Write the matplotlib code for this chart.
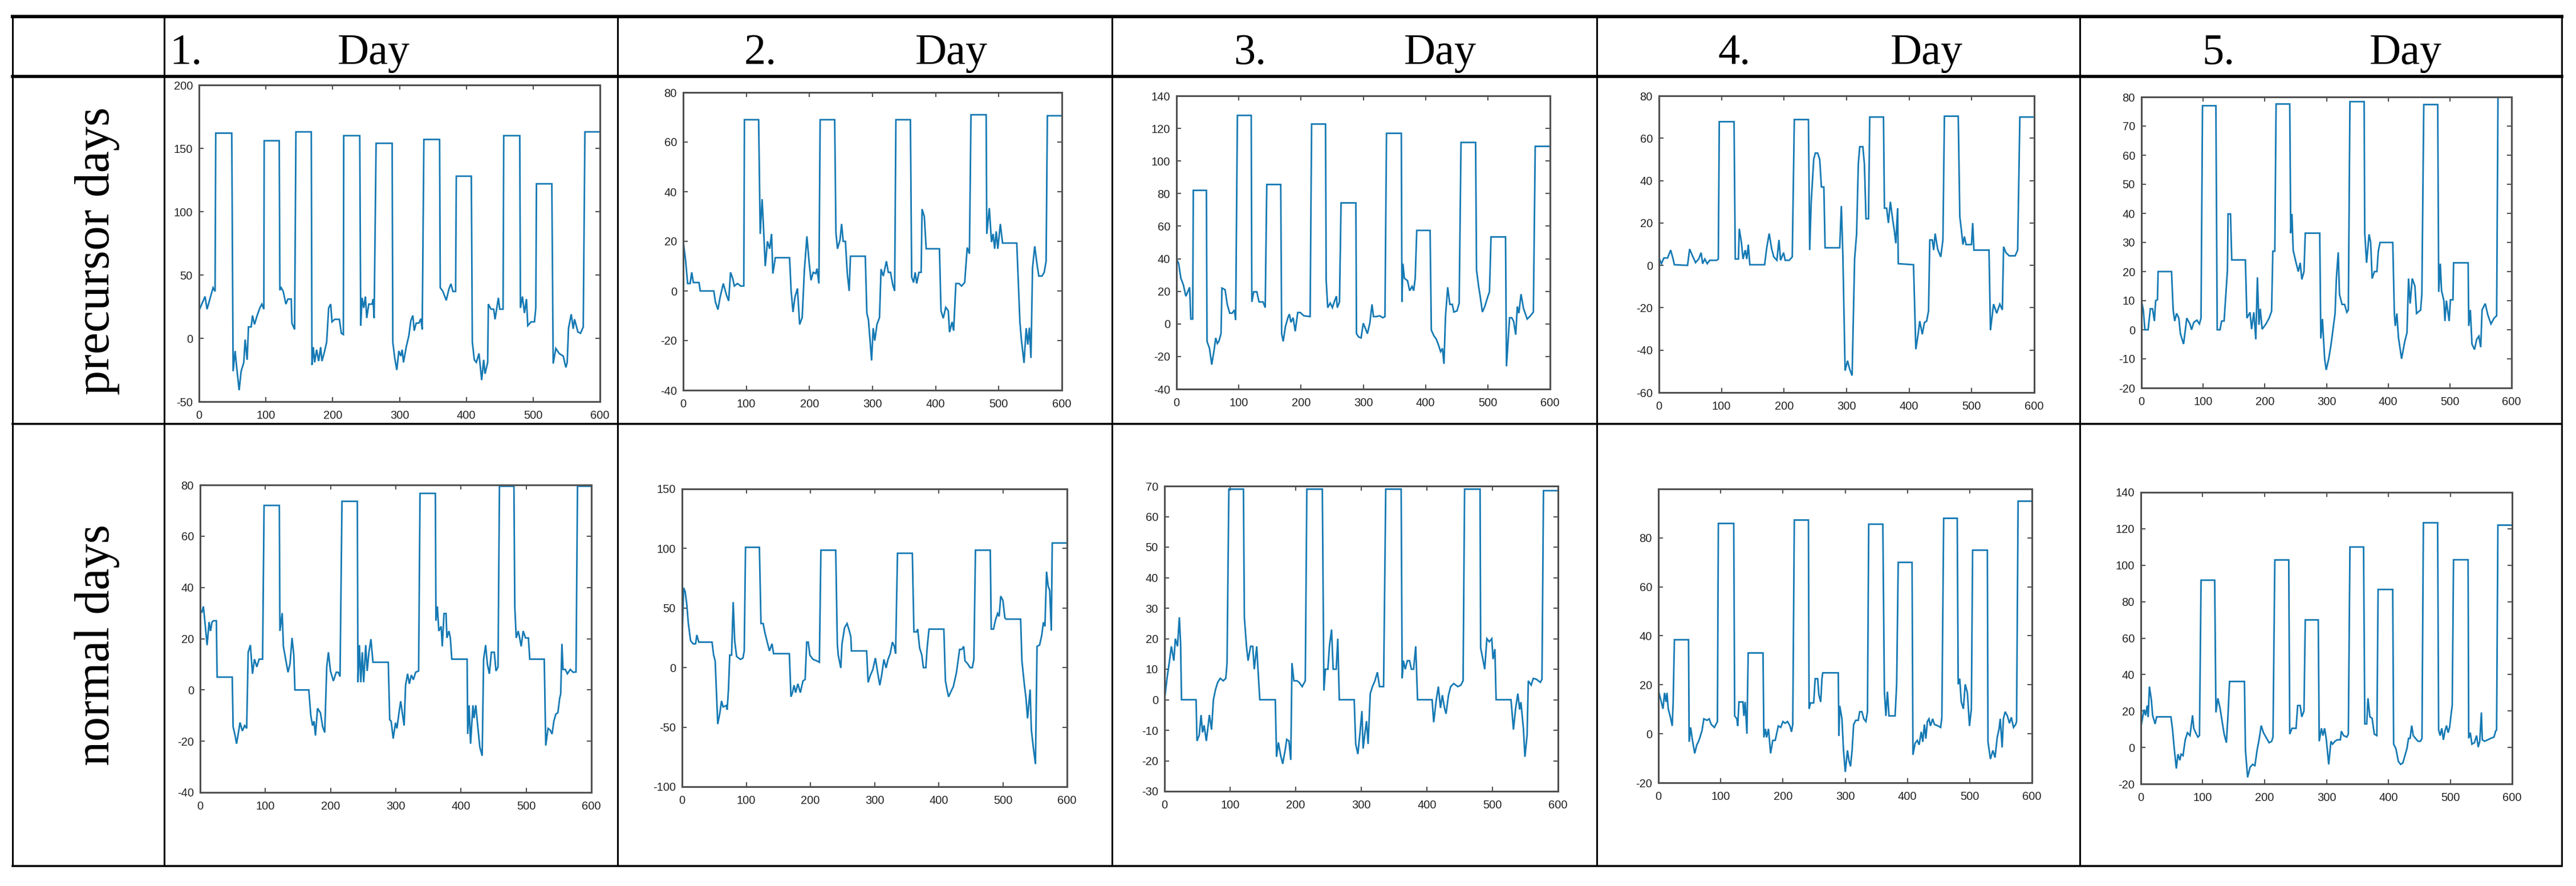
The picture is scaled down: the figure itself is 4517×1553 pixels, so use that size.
import matplotlib
matplotlib.use("Agg")
import matplotlib.pyplot as plt

plt.rcParams["axes.unicode_minus"] = False

# ---------------- data ----------------
column_numbers = ["1.", "2.", "3.", "4.", "5."]
column_word = "Day"
row_labels = ["precursor days", "normal days"]

x_ticks = [0, 100, 200, 300, 400, 500, 600]

precursor_day1 = [(0,22),(9,33),(12,23),(21,40),(24,37),(25,162),(49,162),(51,-26),(54,-10),(56,-21),(60,-41),(63,-26),(67,-19),(69,-1),(72,-17),(74,9),(78,9),(80,18),(83,11),(87,18),(91,24),(94,27),(97,23),(97.5,156),(120,156),(121,38),(123,40),(126,37),(130,27),(133,31),(138,31),(139,12),(143,7),(145,163),(168,163),(169,-21),(171,-7),(173,-19),(176,-9),(179,-18),(182,-7),(184,-18),(188,-10),(191,-3),(194,24),(197,27),(199,13),(203,15),(210,15),(213,4),(216,3),(216.5,160),(240.5,160),(242,10),(244,32),(246.5,24),(249,33),(251,16),(254,27),(259,27),(260.5,31),(262,16),(265,154),(289,154),(290,-3),(293,-16),(296,-25),(299,-10),(302,-14),(304,-9),(306,-19),(310,-7),(314,2),(317,14),(320,18),(322,6),(325,12),(329,12),(332,15.5),(334,7),(336.5,157),(360,157),(361,40),(365,37),(370,30),(374,39),(377,43),(380,37),(384,37),(385,128),(407.5,128),(409,-3),(412,-17),(415,-19),(419,-12),(423,-33),(426,-17),(428,-28),(432,-19),(433,27),(437,23),(441,23),(443,15),(448,32),(450,23),(455,23),(456,160),(480,160),(481,24),(484,33),(487,20),(490,31),(492,10),(497,13),(502,13),(504,24),(505,122),(528,122),(530,-20),(534,-8),(539,-12),(545,-14),(549,-23),(551,-19),(553,8),(557,19),(560,7.5),(562,15),(567,5),(571,4),(575,9),(577.5,163),(600,163)]
precursor_day1_yticks = [-50, 0, 50, 100, 150, 200]
precursor_day1_ylim = (-50, 200)

precursor_day2 = [(0,20),(3.5,13),(7,3),(11,3),(13.5,7.5),(16,3.4),(25,3.4),(27,0),(48.5,0),(51,-4.4),(55,-7.5),(58.5,-2.5),(63.5,3),(68.5,-1.6),(72,-4),(75,7.5),(78.5,5),(81,2),(86,3),(91,2),(96,2),(97,69),(119.5,69),(122,23),(125,37),(127,27),(130,10),(133.5,20),(137,17),(140,23),(142,7),(146,13.4),(168.5,13.4),(171,0),(174,-8.5),(177,-2.5),(181,1),(184.5,-13.5),(188.5,-10.7),(192,8.4),(196,22),(199.5,11.5),(202.5,4.3),(206,7.5),(210,7),(212,9),(215,3),(217,69),(240,69),(242,23.4),(244.5,17),(248.5,20.6),(251,27),(253.5,20),(257,20),(260,7),(263,0),(265,14),(288.5,14),(291,-9),(293.5,-11.6),(298.5,-28),(301,-15),(303.5,-20),(307,-13.5),(311,-10.7),(313.5,8.8),(317,6),(322,12),(325,7.5),(328.5,7.5),(332,2.5),(335,0),(337,69),(360,69),(362,5.6),(365,3.4),(367.5,7.5),(370,3),(373.5,7.5),(377,7.5),(378.5,33),(382,30),(385,17),(406,17),(408.5,-8),(412,-11),(416,-6.6),(420,-8),(422,-16.6),(426,-12.5),(428.5,-16),(432,3),(437,3),(441,2),(446,3.4),(450,17.5),(453.5,15),(456,71),(480,71),(481,23),(485,33.4),(488.5,19.7),(491,23),(493.5,17),(496,24),(498.5,17),(502.5,27),(506,19.3),(528.5,19.3),(533.5,-12.5),(536,-20),(540,-29),(543.5,-15),(546,-21.6),(548.5,-14.8),(551,-27),(553.5,9.3),(557,18),(561,10),(563.5,6),(568.5,6),(572,7.5),(575,12),(577,70.6),(600,70.6)]
precursor_day2_yticks = [-40, -20, 0, 20, 40, 60, 80]
precursor_day2_ylim = (-40, 80)

precursor_day3 = [(0,40),(3.5,37),(7,28),(11,24),(15,17),(18.4,20),(21,22.5),(23,3),(26,3),(27,82),(48,82),(49,-10.7),(53,-15),(56.6,-25),(60.6,-15.5),(63,-8.6),(65.6,-12),(68,-10.7),(71.5,-6),(73,22),(78,21),(81.5,12),(85.5,6.6),(89.4,6.6),(93,8.6),(95,2.4),(97.8,128),(120,128),(121,13.5),(124,19.7),(129,19.7),(132.6,13.5),(139,13.5),(142.5,10),(145,85.6),(167.4,85.6),(168.9,-6),(171.4,-10.7),(174.9,-1.7),(178.9,3.8),(181.3,6),(183.8,1),(187.3,3.8),(190.7,-4.5),(194.7,7),(198.7,7),(204.6,5),(214.6,4.5),(217,122.7),(239.4,122.7),(240.4,27),(242.9,10),(246.9,12.8),(250.4,10),(253.3,13.5),(256.8,17),(258.3,10),(261.8,13.5),(264.3,74.3),(288.1,74.3),(289.1,-6),(292.6,-8),(296.5,-8.6),(300,0.4),(303,-2.4),(306.6,-6),(310.5,0.4),(314,12),(316.4,4.5),(321.4,4.5),(326.4,5),(331.3,3.8),(334.8,4.5),(337.3,117),(361.1,117),(362.1,13.5),(363.6,37),(366,28),(371,26.6),(374.5,20.4),(378.4,23),(380.9,20.4),(383.4,28),(385.9,57.4),(407.3,57.4),(409.3,-3.8),(413.3,-7.2),(417.2,-9.3),(420.7,-12.8),(424.2,-17),(427.1,-15),(429.6,-24.5),(432.1,5),(435.6,22.5),(439.1,12),(443,12),(445.5,7.3),(450.5,8),(454,12.8),(457,111.4),(480.4,111.4),(481.9,33),(485.3,23),(487.8,17),(491.3,7.3),(495.2,10.7),(500.2,17),(502.7,19.7),(505.2,53.4),(528.5,53.4),(530,-26),(535,3.8),(538.4,3.8),(541.4,1.7),(544.9,-6.6),(547.4,10.7),(549.9,6.6),(553.4,18.3),(557.4,9.4),(563.3,3),(567.3,4.5),(573.2,7.3),(576.2,109),(600,109)]
precursor_day3_yticks = [-40, -20, 0, 20, 40, 60, 80, 100, 120, 140]
precursor_day3_ylim = (-40, 140)

precursor_day4 = [(0,3.5),(3.9,0.8),(7.9,3.5),(13.8,3.5),(18.7,7.2),(22.6,3),(24.6,0.3),(45.7,0),(49,7.7),(53.6,4.5),(58.5,1.3),(63.5,3),(67.4,6),(69.8,0.8),(73.3,3),(77.2,0.8),(81.1,2.4),(92.4,2.4),(94.9,3),(96.4,67.8),(120,67.8),(122,3),(127,3),(128.4,17.3),(132,10.4),(134.4,3),(137.9,7.2),(140.4,3),(142.8,9.8),(145.3,0.3),(168.9,0.3),(172.3,8.3),(176.2,15),(180.2,7.7),(183.6,4),(188.5,2.4),(191.9,12),(194.4,2.4),(199.3,6),(201.8,2.4),(208.2,2.4),(213.1,4),(216.4,68.8),(239,68.8),(241,7.2),(243.4,30),(247.4,50),(250,53),(253.7,53),(257,50),(259.7,37),(263.6,37),(265.6,8.3),(289,8.3),(291.6,28),(294,5),(297.6,-49.7),(301.5,-45),(304.9,-49),(308.8,-52),(312.8,3),(316,15),(318.7,47.6),(321,56),(326,56),(328.5,47.6),(331,22),(335,22),(337,70),(359,70),(360.5,27),(364,27),(366.8,20),(370,30),(373.5,22),(376.6,15.7),(378.7,10.4),(381.6,27),(382.6,0.8),(407,0.3),(410.7,-39.6),(414.6,-32),(417,-26.3),(421,-32.5),(424.4,-27),(428,-26.3),(431,-21.5),(433,12),(437,12),(439.2,7.2),(441.6,15),(445.6,7.7),(450.5,4),(454,12),(456.4,70.4),(478.5,70.4),(481,23),(483.5,16.7),(486,9.8),(488.4,13.6),(491,9.8),(499.7,9.8),(501.6,20),(503.6,7.2),(527.7,7.2),(530,-30.6),(535,-18.3),(540,-22.6),(545,-18.3),(549,-21),(551,8.8),(554.8,6),(560,4.5),(569.5,4.5),(573.5,7.2),(577,70),(600,70)]
precursor_day4_yticks = [-60, -40, -20, 0, 20, 40, 60, 80]
precursor_day4_ylim = (-60, 80)

precursor_day5 = [(0,10),(3,6.8),(5.6,0),(10.8,0),(14.4,7.2),(18,7.2),(21,3),(23,10),(26,10.3),(27,20),(48.8,20),(51.4,6.8),(53.9,3),(57,5.6),(60.6,4),(63.2,-1.4),(68.3,-4.9),(73.5,4),(78.6,2),(81.2,0),(84.8,2.5),(89.9,3.3),(94,2),(96.6,4),(99,77),(120.7,77),(122.8,0),(127.4,0),(130,3),(134,3),(136.3,10.3),(139.4,20.4),(140.4,39.8),(144.4,39.8),(146.4,24),(168.5,24),(171,4),(176,6),(178.6,0.2),(182.2,6),(185.4,-3.3),(188,18),(190.5,1.7),(192.6,7.2),(195.7,0.2),(201.9,2),(207,4),(211,6.4),(213,27),(216.2,27),(218.3,77.6),(240.4,77.6),(242,33.2),(244,39.8),(246,27.3),(250.7,23),(254.3,20),(257.4,23),(260,17.3),(263.5,20),(265.6,33.2),(289,33.2),(290.8,-3),(293.4,3.7),(297,-10),(299.5,-13.8),(303.6,-10),(307,-5.6),(309.8,-1),(313.9,5.6),(316,17.6),(319,26.6),(321,12.2),(325.2,8.7),(329.3,8.7),(333,6),(335.4,6.8),(338,78.4),(361,78.4),(362,33.2),(365,23),(369,32.8),(371.6,30),(374,17.6),(377.7,20),(381.7,20),(384,27),(386.8,30),(407.4,30),(410,5.6),(411.5,1.3),(414.1,5.6),(416.6,-2.6),(421.7,-10),(426.9,-4),(430.5,-1),(433,17.6),(435.6,9),(439,17.6),(443.3,15),(446,5.6),(452.6,6.8),(454.6,12.2),(457.7,77.4),(480.3,77.4),(481.9,13),(484.5,22.7),(486.5,13.4),(490.3,10),(492,3),(494.4,10),(498.8,3),(500.9,10.3),(505,10.3),(506,23),(529.6,23),(530.6,1.3),(533.2,6.8),(535.8,-4.9),(539.9,-6.8),(543.5,-3.3),(547,-2.2),(550,-6),(552.2,6.8),(557.3,9),(561.4,5.2),(566.6,2),(571.7,4),(575.8,4.8),(578,80),(600,80)]
precursor_day5_yticks = [-20, -10, 0, 10, 20, 30, 40, 50, 60, 70, 80]
precursor_day5_ylim = (-20, 80)

normal_day1 = [(0,31),(2.7,30.4),(4.9,32.6),(7.1,27),(10.6,17.5),(13.7,26.5),(15.9,23),(18.2,26.5),(20.4,27),(24.8,27),(26,5),(49.2,5),(50.5,-14.4),(53.6,-17.8),(55.8,-21),(59.4,-15.5),(61.1,-12.7),(64.7,-16),(68.2,-13.9),(71.3,-15),(73.6,14.7),(77,17.5),(80.2,6.3),(83.3,12),(86.9,9),(90.4,12),(95.7,12),(98,72),(121.4,72),(122.3,23),(125.8,30),(127.6,17),(131.1,12),(134.7,6.9),(137.8,10.2),(140.9,20.3),(143.6,13.6),(145.3,0),(166.6,0),(169.7,-10),(172.3,-13.9),(174.6,-12.2),(176.8,-17.8),(180,-7.2),(184.4,-8.9),(187.9,-14.4),(191,-16.6),(194.1,9),(196.7,14.7),(199.8,7.4),(204.3,3.5),(208.7,6.9),(211.8,6.9),(214.5,5.2),(217.5,73.6),(241,73.6),(242,3),(244.2,17.5),(246.4,3),(248.6,14.7),(250.8,3),(253.9,17.5),(256.1,7.4),(258.8,14.7),(261.9,19.8),(265,10.8),(288.5,10.8),(290.7,-11.6),(292.9,-12.2),(296,-19),(299.6,-12.8),(301.8,-15),(304.9,-8.9),(307.5,-4.4),(310.6,-10),(312.8,-13.9),(315,1.8),(318.1,6.3),(320.8,2.4),(323.9,5.8),(327,4),(330.5,6.9),(335,7.4),(337.2,76.7),(360.7,76.7),(361.6,27),(363.8,32.6),(366,23),(369.6,24.8),(371.3,17),(374,29.8),(377.1,29.8),(378.4,20.3),(381.5,23),(383.7,20.3),(385.9,12),(409.4,12),(410.3,-17.2),(412.5,-6),(414.7,-21),(418.3,-6),(420,-11),(422.7,-6),(425.8,-14.4),(428.9,-22.3),(432.5,-25.7),(434.7,12),(437.8,17.5),(440.4,10.2),(443.5,6.3),(446.6,14.7),(451.1,14.7),(453.7,7.4),(456.8,9),(459,79.5),(481.2,79.5),(482.5,32.6),(484.7,20.3),(487.8,23),(490,20.3),(492.3,17),(495.4,23),(498.9,20.3),(503.4,20.3),(505.5,12),(527.7,12),(530,-21.7),(533.5,-15),(536.6,-15.6),(539.7,-17.2),(542.4,-12.2),(545.5,-9.4),(548.6,-8.9),(551.3,-3.3),(553,-1.5),(554.8,18),(556.5,8),(560,8),(563.2,6.3),(567.6,8),(572,6.9),(576.4,7),(578.7,79.5),(600,79.5)]
normal_day1_yticks = [-40, -20, 0, 20, 40, 60, 80]
normal_day1_ylim = (-40, 80)

normal_day2 = [(0,22.6),(2.5,67),(4.9,63.6),(7.4,52.7),(9.8,37),(13.3,22.6),(17.2,20),(21.1,20),(23,27.4),(26,21.4),(46.7,21.4),(49.2,10.5),(51.6,5.7),(55.6,-47.4),(59,-37.8),(61.5,-28),(63.9,-33),(68.9,-31.8),(70.3,-35.4),(72.3,-18.4),(74.3,10.5),(77.2,10.5),(79.7,55),(82,22.6),(85,9.3),(90.9,6.9),(94.9,8),(96.9,14),(98.9,101),(120.5,101),(123,37),(126.4,37),(129.4,28.6),(132.8,21.4),(136.2,14),(140.2,20),(142.6,11.7),(167.2,11.7),(169.7,-24.5),(172.1,-21),(174.6,-14.8),(177,-21),(180.5,-13.6),(184.4,-21),(188.4,-11.2),(191.8,-10),(194.3,21.4),(196.7,21.4),(199.2,10.5),(204.1,6.9),(210,5.7),(214,4.5),(216.4,98.6),(239.5,98.6),(242,20),(243.4,10.5),(247.4,-0.3),(249.3,20),(253.3,33.5),(257.2,37),(260.6,31),(263,26),(264,14),(287.7,14),(290,-12.4),(293.5,-6.4),(297.4,-1.6),(301.3,8),(304.8,-4),(308.2,-14.8),(311.1,-6.4),(314.6,6.9),(318,-0.3),(321,6.9),(324.4,11.7),(327.9,21.4),(330.8,17.8),(332.8,11.7),(335.8,96),(358.9,96),(361.4,30),(365.3,30),(367.3,32.3),(370.2,16.6),(373.7,10.5),(376.1,0),(380,0),(382,16.6),(384.9,32.3),(408,32.3),(410.5,-11.2),(413,-18.4),(415.4,-24.5),(419.4,-19.7),(422.8,-16),(427.7,-4),(432.6,15.3),(436.1,15.3),(439,17.8),(441,5.7),(445,3.3),(448.9,0),(452.4,0),(454.8,6.9),(457.3,98.6),(480.4,98.6),(481.9,32.3),(485.4,32.3),(488.3,39.5),(491.8,45.5),(494.2,43),(496.7,60),(500.1,56.4),(503.1,41.8),(505,40.7),(527.7,40.7),(529.7,5.7),(533.6,-14.8),(536.1,-25.7),(538.5,-42.6),(542.5,-18.4),(544.4,-52),(547.4,-66.7),(550.8,-81),(553.3,17.8),(557.3,19),(560.7,27.4),(563.2,38),(565.6,34.6),(568.1,80.5),(570.6,68.4),(573,64.8),(575.5,31),(577,104.6),(600,104.6)]
normal_day2_yticks = [-100, -50, 0, 50, 100, 150]
normal_day2_ylim = (-100, 150)

normal_day3 = [(0,0),(3.8,7),(7.1,12),(10.4,17.5),(14.2,12.8),(16.5,20),(19.8,17.5),(22.6,27),(24.5,18.4),(25.9,0),(48.1,0),(49.5,-13.5),(52.8,-11.7),(55.7,-5),(58,-10.7),(60.4,-8.4),(63.7,-13.5),(68.4,-5),(71.7,-9.8),(74.5,0),(77.8,3.4),(81.1,5.7),(84.9,7),(89.6,6.2),(93.4,7),(95.3,12),(98.1,69),(120.3,69),(121.7,27),(125,17.5),(127.4,12.8),(131.2,17.5),(134.5,17.5),(136.8,10),(140.6,17.5),(142.5,10),(145.3,0),(168.9,0),(170.8,-18.7),(173.6,-14),(177,-18.2),(180.2,-21),(184,-16.4),(186.3,-13),(189.7,-13.5),(192.5,-19.7),(194.3,12),(197.2,6.2),(201.9,6.2),(205.2,5.7),(209.9,4.3),(214.6,6.2),(217,69),(240.6,69),(243,3),(245.3,10),(249.1,10),(251.4,17.5),(254.7,23),(257.1,10),(261.8,10),(264.2,20),(266.5,0),(289.2,0),(291.5,-14.5),(294.8,-17.8),(298.1,-10.7),(301,-3.7),(302.8,-16),(305.7,-10.7),(308,-7),(310.4,-14.5),(313.7,2),(317,4.3),(320.8,6.2),(324.5,9),(327.8,4.3),(334,4.3),(337.3,69),(360.8,69),(362.3,7),(364.2,12.8),(367,10),(370.3,12.8),(373.6,12.8),(376.4,10),(379.7,10),(383,17.5),(385.8,0),(408,0),(410.4,-7.4),(414.1,-0.4),(417.5,4.3),(420.8,-2.7),(423.6,1.5),(426.9,-2.7),(429.2,-4.6),(433,1.5),(436.3,4.3),(441,5.3),(447.2,4.3),(451.9,4.8),(455.2,6.2),(457.5,69),(481.1,69),(482,17),(485.8,12.8),(488.2,10),(491.5,20),(495.2,19),(499,20),(500.9,13.3),(503.7,16.6),(505.6,0),(528.3,0),(532,-9.8),(535.4,-2.7),(538.7,2),(541.5,-3.2),(543.4,-0.8),(547.2,-9.4),(549.5,-18.7),(552.8,-11.7),(554.7,6.2),(559,4.8),(562.3,7),(567,6.7),(573.1,5.7),(575.5,6.7),(577.8,68.5),(600,68.5)]
normal_day3_yticks = [-30, -20, -10, 0, 10, 20, 30, 40, 50, 60, 70]
normal_day3_ylim = (-30, 70)

normal_day4 = [(1,16.7),(4,13.7),(7.4,10.2),(9.9,16.7),(12.3,13),(13.8,16.7),(15.8,10.2),(18.8,7.3),(22.2,3.2),(23.7,13),(25.7,38.4),(48.4,38.4),(49.4,-3.3),(51.8,2.6),(54.3,-2),(58.3,-8),(61.7,-4.5),(64.2,-3.3),(66.7,-1.5),(70.1,1.4),(73,6.1),(78,5.5),(81.5,6.1),(84.9,3.8),(89.9,2.6),(94.8,5),(96.3,85.9),(121,85.9),(122.5,7.3),(126,6.1),(127.4,3.2),(129.4,13),(135.8,13),(137.3,7.3),(139.3,13),(142.2,0),(144.2,33),(168,33),(169.4,-1.5),(171.9,2),(173.8,-1.5),(176.8,2),(180.2,-8),(183.7,-2.7),(187.6,-2.7),(192.6,3.2),(196.5,2.6),(200,5),(203.5,4.3),(207.4,5),(211.3,3.2),(213.8,0.8),(215.8,3.8),(218.3,87.3),(241,87.3),(242,10.2),(244.4,12.6),(249.4,12.6),(251.8,22.5),(255.8,22.5),(257.7,16),(260.7,13),(262.7,22.5),(264,24.9),(288.9,24.9),(289.9,-0.9),(291.3,11.4),(294.8,6.1),(297.3,-6.8),(300.2,-15.6),(303.7,-6.8),(306.1,-11),(308.6,-13.3),(311.1,-6.8),(313.6,3.8),(317,5.5),(321,5.5),(323.4,9),(326.9,9),(329.9,6.1),(333.3,5),(335.8,9),(337.8,85.6),(360.5,85.6),(363,17.2),(365.4,7.3),(367.9,17.2),(370.4,7.3),(380.2,7.3),(382.7,20.2),(385.2,70),(407.4,70),(408.9,-8.6),(412.3,-3.9),(415.8,-2.7),(418.8,-4.5),(422.2,0.8),(424.7,-3.3),(427.2,3.8),(429.6,-2),(432,5),(434.6,6.1),(437,3.2),(440.5,6.1),(443.4,3.8),(449.4,3.2),(453.3,2.6),(455.3,6.7),(458.2,88),(480,88),(481.5,20.2),(484,22.5),(486.5,13),(489.9,10.2),(492.8,20.2),(496.3,16.7),(499.7,3.2),(502.7,10.2),(504.7,75),(528.4,75),(529.4,-3.3),(533.3,-10.3),(537.3,-6.8),(540.7,-9.7),(544.2,-1.5),(547.2,2),(549.1,6.1),(552.1,-5.6),(554.1,6.1),(557,9),(560.5,7.3),(563.9,4.3),(566.9,6.7),(570.4,2.6),(573.8,3.8),(575.3,5),(577.8,95),(600,95)]
normal_day4_yticks = [-20, 0, 20, 40, 60, 80]
normal_day4_ylim = (-20, 100)

normal_day5 = [(1,12.9),(5.1,20.8),(7.7,17.6),(10.2,23),(11.8,16.8),(13.8,33.4),(16.9,26.3),(19,17.6),(23,12.9),(25.6,16.8),(48.6,16.8),(51.2,9.7),(53.7,0.2),(57.3,-11.6),(59.9,-3.7),(63,-7),(65,-3.7),(68.1,-4.5),(71.7,4.2),(75.3,8.1),(79.4,6.5),(83.5,17.6),(85.5,10.5),(88.6,8.1),(92.1,5.7),(94.7,6.5),(97.3,91.8),(119.3,91.8),(121.3,19.2),(124.4,27),(128,21.5),(131.6,13.6),(134.6,7.3),(138.2,2.6),(140.8,17.6),(143.3,36.2),(167.4,36.2),(169,-1.4),(172.5,-16.4),(176.6,-10.8),(180.7,-9.3),(184.3,-10),(187.9,-1.4),(191,4.2),(194.5,12),(198.1,8.1),(203.2,5),(207.3,2.6),(211.4,3.4),(213.5,5.7),(216.5,102.9),(239,102.9),(240.6,7.3),(244.2,10.5),(250.8,10.5),(253.4,23),(257.5,23),(260,16.8),(263.6,20),(265.7,70),(286.7,70),(288.2,3.4),(291.8,10.5),(294.3,6.5),(296.9,10.5),(299.5,5),(303.6,-9.3),(307.2,3.4),(309.7,1.8),(313.8,3.4),(317.4,4.2),(322.5,4.2),(324,8.9),(327.6,6.5),(332.7,5.7),(335.3,7.3),(337.9,110),(359.9,110),(361.9,12.9),(365,12.9),(367,27),(370.1,16.8),(373.7,16),(377.3,7.3),(381.4,6.5),(383.4,86.7),(407,86.7),(408.5,1.8),(412.1,-0.6),(416.2,-7.7),(419.8,-9.3),(423.4,-8.5),(427.4,-3.7),(430,-0.6),(432.6,5),(435.1,5),(437.7,12),(440.2,6.5),(443.8,5),(447.9,3.4),(452,3.4),(454.3,5),(456.6,123.3),(479.6,123.3),(481.2,9.7),(483.7,6.5),(486.3,10.5),(488.9,4.2),(491.4,8.9),(494,12),(496.6,8.1),(499.1,11.3),(501.7,19.2),(503.2,23),(505.3,103),(528.8,103),(529.8,5),(532.4,8.1),(535,1.8),(539,2.6),(542.6,6.5),(545.2,0.2),(547.7,3.4),(550.3,19.2),(551.8,4.2),(555.4,3.4),(560.5,4.2),(565.6,5),(570.7,5.7),(573.3,8.9),(574.9,9.7),(577,122),(600,122)]
normal_day5_yticks = [-20, 0, 20, 40, 60, 80, 100, 120, 140]
normal_day5_ylim = (-20, 140)

# ---------------- layout ----------------
W, H = 4517, 1553
fig = plt.figure(figsize=(W / 100, H / 100), dpi=100)
fig.patch.set_facecolor("white")

bg = fig.add_axes([0, 0, 1, 1])
bg.set_xlim(0, W)
bg.set_ylim(H, 0)
bg.axis("off")
bg.patch.set_visible(False)

col_edges = [22, 288, 1083, 1950, 2800, 3647, 4492]
top_y, head_y, mid_y, bot_y = 29, 134, 743, 1518
px = 0.72  # points per pixel at 100 dpi

def hline(y, x0, x1, w):
    bg.plot([x0, x1], [y, y], color="black", lw=w * px, solid_capstyle="projecting")

def vline(x, y0, y1, w):
    bg.plot([x, x], [y0, y1], color="black", lw=w * px, solid_capstyle="butt")

hline(top_y, col_edges[0], col_edges[-1], 6)
hline(head_y, col_edges[0], col_edges[-1], 5.5)
hline(mid_y, col_edges[0], col_edges[-1], 3.5)
hline(bot_y, col_edges[0], col_edges[-1], 3.5)
for x in col_edges:
    vline(x, top_y, bot_y, 3)

serif = ["Liberation Serif", "DejaVu Serif"]
num_x = [297, 1305, 2163, 3013, 3861]
day_x = [655, 1668, 2525, 3378, 4218]
for i in range(5):
    bg.text(num_x[i], 112, column_numbers[i], family=serif, fontsize=55,
            ha="left", va="baseline", color="black")
    bg.text(day_x[i], 112, column_word, family=serif, fontsize=55,
            ha="center", va="baseline", color="black")

bg.text(170, 440, row_labels[0], family=serif, fontsize=62, rotation=90,
        ha="center", va="center", color="black")
bg.text(170, 1130, row_labels[1], family=serif, fontsize=62, rotation=90,
        ha="center", va="center", color="black")

panels = [
    (precursor_day1, precursor_day1_ylim, precursor_day1_yticks, (349, 149, 1052, 704)),
    (precursor_day2, precursor_day2_ylim, precursor_day2_yticks, (1198, 162, 1862, 684)),
    (precursor_day3, precursor_day3_ylim, precursor_day3_yticks, (2063, 168, 2718, 682)),
    (precursor_day4, precursor_day4_ylim, precursor_day4_yticks, (2909, 168, 3567, 688)),
    (precursor_day5, precursor_day5_ylim, precursor_day5_yticks, (3755, 170, 4404, 680)),
    (normal_day1, normal_day1_ylim, normal_day1_yticks, (351, 850, 1037, 1389)),
    (normal_day2, normal_day2_ylim, normal_day2_yticks, (1196, 857, 1871, 1379)),
    (normal_day3, normal_day3_ylim, normal_day3_yticks, (2042, 852, 2732, 1387)),
    (normal_day4, normal_day4_ylim, normal_day4_yticks, (2908, 857, 3563, 1372)),
    (normal_day5, normal_day5_ylim, normal_day5_yticks, (3754, 863, 4405, 1374)),
]

frame_col = "#505050"
line_col = "#1579b3"
for series, ylim, yt, (l, t, r, b) in panels:
    ax = fig.add_axes([l / W, 1 - b / H, (r - l) / W, (b - t) / H])
    xs = [p[0] for p in series]
    ys = [p[1] for p in series]
    ax.plot(xs, ys, color=line_col, lw=2.0, solid_joinstyle="miter")
    ax.set_xlim(0, 600)
    ax.set_ylim(*ylim)
    ax.set_xticks(x_ticks)
    ax.set_yticks(yt)
    ax.set_xticklabels([str(v) for v in x_ticks])
    ax.set_yticklabels([str(v) for v in yt])
    for s in ax.spines.values():
        s.set_color(frame_col)
        s.set_linewidth(2.2)
    ax.tick_params(direction="in", top=True, right=True, length=6, width=1.5,
                   color=frame_col, labelcolor="#222222", labelsize=14.5)
    ax.tick_params(axis="x", pad=11)
    ax.tick_params(axis="y", pad=8)
    for lab in ax.get_xticklabels() + ax.get_yticklabels():
        lab.set_family(["Liberation Sans", "DejaVu Sans"])

fig.savefig("out.png", dpi=100, facecolor="white")
